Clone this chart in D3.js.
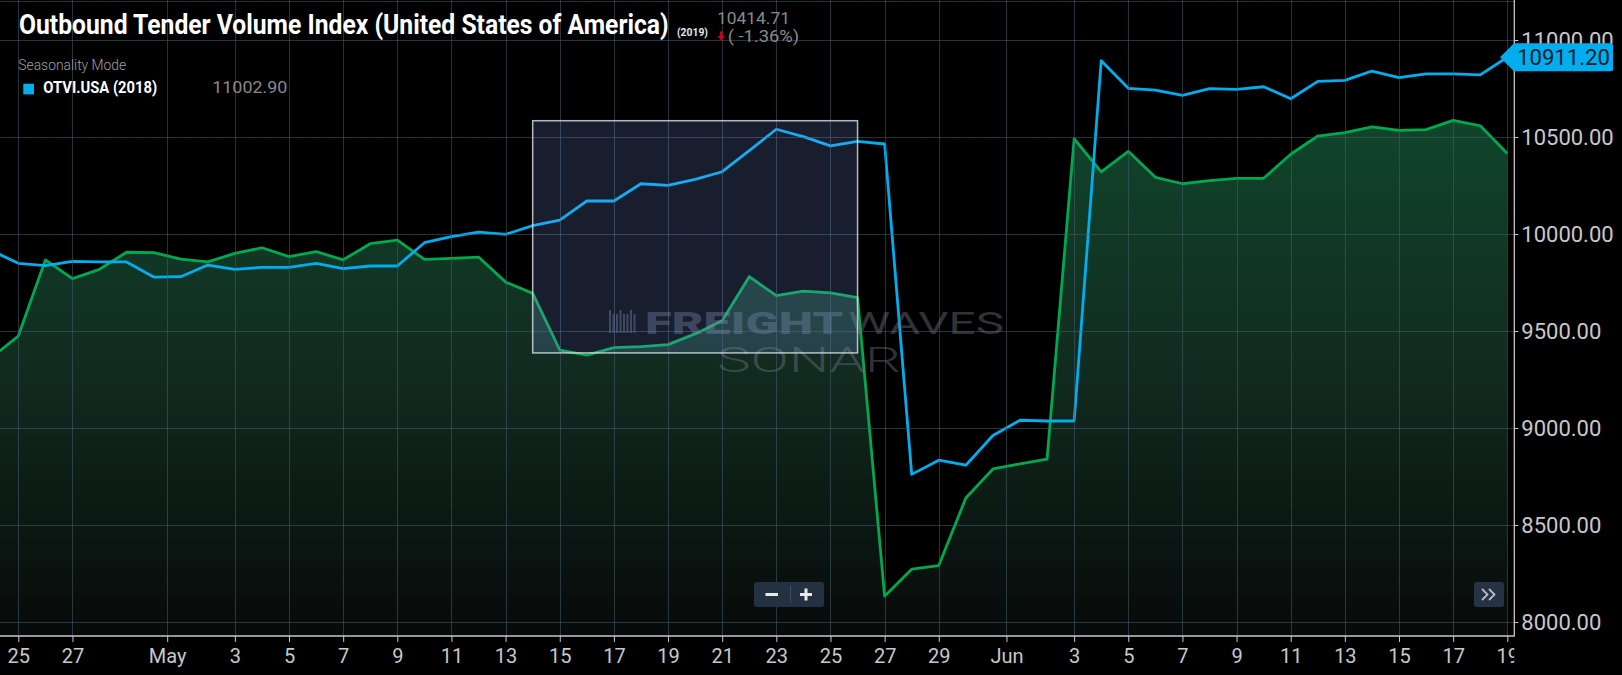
<!DOCTYPE html>
<html>
<head>
<meta charset="utf-8">
<script src="https://cdn.jsdelivr.net/npm/d3@7.9.0/dist/d3.min.js"></script>
<style>
  body { margin: 0; background: #000; }
  svg { display: block; font-family: Roboto, "Noto Sans", sans-serif; }
</style>
</head>
<body>
<svg id="chart" width="1622" height="675"></svg>
<script>
// daily points (2019 calendar), Apr 24 - Jun 19
const days = [
  "04-24","04-25","04-26","04-27","04-28","04-29","04-30",
  "05-01","05-02","05-03","05-04","05-05","05-06","05-07","05-08","05-09","05-10",
  "05-11","05-12","05-13","05-14","05-15","05-16","05-17","05-18","05-19","05-20",
  "05-21","05-22","05-23","05-24","05-25","05-26","05-27","05-28","05-29","05-30","05-31",
  "06-01","06-02","06-03","06-04","06-05","06-06","06-07","06-08","06-09","06-10",
  "06-11","06-12","06-13","06-14","06-15","06-16","06-17","06-18","06-19"
];

// OTVI.USA 2019 (green area)
const otvi2019 = [
  9362, 9474, 9866, 9770, 9818, 9906, 9904,
  9871, 9856, 9900, 9929, 9883, 9909, 9867, 9950, 9969, 9869,
  9874, 9881, 9752, 9694, 9402, 9376, 9414, 9419, 9430, 9485,
  9553, 9780, 9682, 9706, 9696, 9672, 8133, 8272, 8291, 8639, 8789,
  8815, 8840, 10491, 10320, 10426, 10292, 10259, 10275, 10287, 10287,
  10411, 10505, 10522, 10552, 10534, 10538, 10586, 10558, 10414.71
];

// OTVI.USA 2018 seasonality overlay (blue line)
const otvi2018 = [
  9915, 9849, 9837, 9859, 9856, 9856, 9778,
  9780, 9840, 9818, 9828, 9828, 9849, 9821, 9835, 9835, 9955,
  9986, 10010, 9998, 10043, 10072, 10170, 10170, 10259, 10251, 10282,
  10321, 10430, 10540, 10502, 10454, 10478, 10464, 8761, 8834, 8808, 8961,
  9040, 9036, 9036, 10893, 10751, 10742, 10715, 10749, 10746, 10759,
  10697, 10787, 10792, 10840, 10806, 10825, 10825, 10820, 10911.2
];

const yTicks = [8000, 8500, 9000, 9500, 10000, 10500, 11000];

const xTickDates = [
  "2019-04-25T12:00Z","2019-04-27T12:00Z","2019-05-01T00:00Z",
  "2019-05-03T12:00Z","2019-05-05T12:00Z","2019-05-07T12:00Z","2019-05-09T12:00Z",
  "2019-05-11T12:00Z","2019-05-13T12:00Z","2019-05-15T12:00Z","2019-05-17T12:00Z",
  "2019-05-19T12:00Z","2019-05-21T12:00Z","2019-05-23T12:00Z","2019-05-25T12:00Z",
  "2019-05-27T12:00Z","2019-05-29T12:00Z","2019-06-01T00:00Z",
  "2019-06-03T12:00Z","2019-06-05T12:00Z","2019-06-07T12:00Z","2019-06-09T12:00Z",
  "2019-06-11T12:00Z","2019-06-13T12:00Z","2019-06-15T12:00Z","2019-06-17T12:00Z",
  "2019-06-19T12:00Z"
];
const xTickLabels = ["25","27","May","3","5","7","9","11","13","15","17","19","21","23",
  "25","27","29","Jun","3","5","7","9","11","13","15","17","19"];

// zoom-selection box, in data terms
const selStart = "2019-05-14T12:00Z";
const selEnd = "2019-05-26T12:00Z";
const selLow = 9387;
const selHigh = 10584;

const W = 1622, H = 675;
const plotRight = 1514.3, plotBottom = 636;
const GREEN = "#00a84f", BLUE = "#00aeef";

const parseDay = s => new Date(`2019-${s}T12:00Z`);
const data = days.map((d, i) => ({ date: parseDay(d), v19: otvi2019[i], v18: otvi2018[i] }));

const x = d3.scaleUtc()
  .domain([new Date("2019-04-25T12:00Z"), new Date("2019-06-19T12:00Z")])
  .range([18.3, 1507.3]);
const y = d3.scaleLinear().domain([8000, 11000]).range([622, 40]);

const svg = d3.select("#chart");
const defs = svg.append("defs");

// squeeze a text horizontally so it spans `width` px (condensed look)
function fitText(parent, tx, ty, width, str, attrs) {
  const t = parent.append("text").attr("x", 0).attr("y", 0).text(str);
  Object.entries(attrs).forEach(([k, v]) => t.attr(k, v));
  const w = t.node().getComputedTextLength() || width;
  t.attr("transform", `translate(${tx},${ty}) scale(${width / w},1)`);
  return t;
}

defs.append("clipPath").attr("id", "plotClip")
  .append("rect").attr("x", 0).attr("y", 0).attr("width", plotRight).attr("height", plotBottom);
// x labels are cut at the right axis line (local coords of the axis group)
defs.append("clipPath").attr("id", "xLabClip")
  .append("rect").attr("x", 0).attr("y", 0).attr("width", plotRight).attr("height", H - plotBottom);

const grad = defs.append("linearGradient").attr("id", "areaGrad")
  .attr("gradientUnits", "userSpaceOnUse")
  .attr("x1", 0).attr("x2", 0).attr("y1", 120).attr("y2", plotBottom);
grad.append("stop").attr("offset", 0).attr("stop-color", "#10452b");
grad.append("stop").attr("offset", 0.5).attr("stop-color", "#112a1f");
grad.append("stop").attr("offset", 1).attr("stop-color", "#070a09");

svg.append("rect").attr("width", W).attr("height", H).attr("fill", "#000");

const plot = svg.append("g").attr("clip-path", "url(#plotClip)");

// 2019 area fill
const area = d3.area()
  .x(d => x(d.date))
  .y0(plotBottom)
  .y1(d => y(d.v19));
plot.append("path").datum(data).attr("d", area).attr("fill", "url(#areaGrad)");

// grid
const grid = svg.append("g").attr("stroke", "rgba(68,92,112,0.55)").attr("stroke-width", 1);
grid.selectAll("line.h").data(yTicks).join("line")
  .attr("x1", 0).attr("x2", plotRight)
  .attr("y1", d => Math.round(y(d)) + 0.5).attr("y2", d => Math.round(y(d)) + 0.5);
grid.selectAll("line.v").data(xTickDates).join("line")
  .attr("x1", d => Math.round(x(new Date(d))) + 0.5).attr("x2", d => Math.round(x(new Date(d))) + 0.5)
  .attr("y1", 0).attr("y2", plotBottom);
grid.append("line").attr("x1", 0).attr("x2", plotRight).attr("y1", 1.5).attr("y2", 1.5);

// watermark
const wm = svg.append("g");
d3.range(8).forEach(i => {
  wm.append("rect")
    .attr("x", 609 + i * 3.5).attr("y", i % 3 === 0 ? 310 : 314)
    .attr("width", 2).attr("height", i % 3 === 0 ? 23 : 19)
    .attr("fill", "rgba(120,135,160,0.4)");
});
fitText(wm, 645, 333.5, 198, "FREIGHT",
  { "font-size": 32, "font-weight": 900, fill: "rgba(120,135,160,0.38)" });
fitText(wm, 848, 333.5, 156, "WAVES",
  { "font-size": 32, "font-weight": 400, fill: "rgba(110,115,125,0.45)" });
fitText(wm, 717, 371.7, 184, "SONAR",
  { "font-size": 35, "font-weight": 300, fill: "rgba(110,115,125,0.45)" });

// selection box
svg.append("rect")
  .attr("x", x(new Date(selStart))).attr("y", y(selHigh))
  .attr("width", x(new Date(selEnd)) - x(new Date(selStart)))
  .attr("height", y(selLow) - y(selHigh))
  .attr("fill", "rgba(135,160,250,0.19)")
  .attr("stroke", "rgba(225,228,232,0.8)").attr("stroke-width", 1.5);

// lines
const line19 = d3.line().x(d => x(d.date)).y(d => y(d.v19));
const line18 = d3.line().x(d => x(d.date)).y(d => y(d.v18));
plot.append("path").datum(data).attr("d", line19)
  .attr("fill", "none").attr("stroke", GREEN).attr("stroke-width", 2.8).attr("stroke-linejoin", "round");
plot.append("path").datum(data).attr("d", line18)
  .attr("fill", "none").attr("stroke", BLUE).attr("stroke-width", 2.8).attr("stroke-linejoin", "round");

// axes
const axisColor = "#c8c8c8";
svg.append("line").attr("x1", 0).attr("x2", plotRight + 0.5).attr("y1", plotBottom).attr("y2", plotBottom)
  .attr("stroke", axisColor).attr("stroke-width", 1.3);
svg.append("line").attr("x1", plotRight).attr("x2", plotRight).attr("y1", 0).attr("y2", plotBottom)
  .attr("stroke", axisColor).attr("stroke-width", 1.3);

const xAxis = d3.axisBottom(x)
  .tickValues(xTickDates.map(d => new Date(d)))
  .tickFormat((d, i) => xTickLabels[i])
  .tickSize(6).tickPadding(4);
const gx = svg.append("g").attr("transform", `translate(0,${plotBottom})`)
  .attr("clip-path", "url(#xLabClip)").call(xAxis);
gx.select(".domain").remove();
gx.selectAll(".tick line").attr("stroke", axisColor);
gx.selectAll(".tick text").attr("fill", axisColor).attr("font-size", 20)
  .attr("font-family", "Roboto, sans-serif").attr("dy", null).attr("y", 27);

const yAxis = d3.axisRight(y)
  .tickValues(yTicks)
  .tickFormat(d3.format(".2f"))
  .tickSize(4).tickPadding(3);
const gy = svg.append("g").attr("transform", `translate(${plotRight},0)`).call(yAxis);
gy.select(".domain").remove();
gy.selectAll(".tick line").attr("stroke", axisColor);
gy.selectAll(".tick text").attr("fill", axisColor).attr("font-size", 22)
  .attr("font-family", "Roboto, sans-serif");

// last-value marker for 2018 series
const last = data[data.length - 1];
const my = y(last.v18);
const marker = svg.append("g");
marker.append("path")
  .attr("d", `M1500,${my} L1514,${my - 14} L1611,${my - 14} Q1613,${my - 14} 1613,${my - 12} L1613,${my + 12} Q1613,${my + 14} 1611,${my + 14} L1514,${my + 14} Z`)
  .attr("fill", BLUE);
fitText(marker, 1517, my + 8, 93, d3.format(".2f")(last.v18),
  { "font-size": 22, fill: "#13202a" });

// header
const hdr = svg.append("g");
fitText(hdr, 19, 34.3, 650, "Outbound Tender Volume Index (United States of America)",
  { "font-size": 27, "font-weight": 700, fill: "#fff" });
fitText(hdr, 677, 36, 31, "(2019)",
  { "font-size": 11, "font-weight": 700, fill: "#e8e8e8" });
fitText(hdr, 717, 24, 73, d3.format(".2f")(last.v19),
  { "font-size": 17, fill: "#8a8a8a" });
hdr.append("path")
  .attr("d", "M720,31.5 L722.5,31.5 L722.5,36 L725,36 L721.25,40.8 L717.5,36 L720,36 Z")
  .attr("fill", "#d0021b");
fitText(hdr, 727.7, 41.7, 71.5, "( -1.36%)",
  { "font-size": 17, fill: "#8a8a8a" });

fitText(hdr, 18.3, 70, 108, "Seasonality Mode",
  { "font-size": 14, "font-weight": 300, fill: "#a0a0a0" });
hdr.append("rect").attr("x", 23.3).attr("y", 83.7).attr("width", 10.7).attr("height", 10.7).attr("fill", BLUE);
fitText(hdr, 43.3, 93.3, 114, "OTVI.USA (2018)",
  { "font-size": 16, "font-weight": 700, fill: "#fff" });
fitText(hdr, 212.3, 93.3, 75, "11002.90",
  { "font-size": 17, fill: "#8a8a8a" });

// zoom buttons
const zb = svg.append("g");
zb.append("rect").attr("x", 754).attr("y", 582).attr("width", 70).attr("height", 25).attr("rx", 3)
  .attr("fill", "#243142");
zb.append("line").attr("x1", 790.5).attr("x2", 790.5).attr("y1", 586).attr("y2", 603)
  .attr("stroke", "#3d4c5e").attr("stroke-width", 1);
zb.append("path").attr("d", "M765.5,594.5 H778").attr("stroke", "#e8e8e8").attr("stroke-width", 3);
zb.append("path").attr("d", "M800,594.5 H812 M806,588.5 V600.5").attr("stroke", "#e8e8e8").attr("stroke-width", 3);

const fb = svg.append("g");
fb.append("rect").attr("x", 1474).attr("y", 582).attr("width", 30).attr("height", 25).attr("rx", 3)
  .attr("fill", "#253345");
fb.append("path").attr("d", "M1482,589 L1487.5,594.5 L1482,600 M1489,589 L1494.5,594.5 L1489,600")
  .attr("fill", "none").attr("stroke", "#b8bcc2").attr("stroke-width", 1.8);
</script>
</body>
</html>
